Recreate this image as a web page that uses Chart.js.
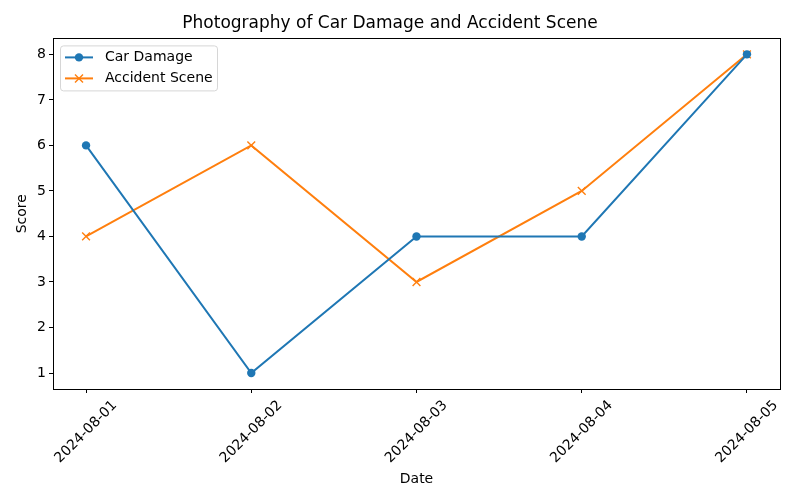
<!DOCTYPE html>
<html lang="en">
<head>
  <meta charset="UTF-8" />
  <title>Photography of Car Damage and Accident Scene</title>
  <script src="https://cdn.jsdelivr.net/npm/chart.js"></script>
  <style>
    html, body { margin: 0; padding: 0; background: #fff; }
    #wrap { width: 800px; height: 500px; }
  </style>
</head>
<body>
  <div id="wrap"><canvas id="chart" width="800" height="500"></canvas></div>

  <script>
    const dates = ['2024-08-01', '2024-08-02', '2024-08-03', '2024-08-04', '2024-08-05'];
    const carDamage = [6, 1, 4, 4, 8];
    const accidentScene = [4, 6, 3, 5, 8];
    const yTicks = [1, 2, 3, 4, 5, 6, 7, 8];

    const FONT = 'DejaVu Sans';
    const BLUE = '#1f77b4';
    const ORANGE = '#ff7f0e';

    const toPoints = arr => arr.map((v, i) => ({ x: i, y: v }));

    // frame, rotated x labels and legend, drawn like matplotlib does
    const mplPlugin = {
      id: 'mpl',
      afterDraw(chart) {
        const ctx = chart.ctx;
        const a = chart.chartArea;
        ctx.save();
        ctx.strokeStyle = '#000';
        ctx.lineWidth = 1;
        ctx.strokeRect(Math.round(a.left) + 0.5, Math.round(a.top) + 0.5,
          Math.round(a.right - a.left), Math.round(a.bottom - a.top));

        // x tick labels, centred on the tick and rotated 45deg
        const xs = chart.scales.x;
        ctx.font = '14px "' + FONT + '"';
        ctx.fillStyle = '#000';
        ctx.textAlign = 'center';
        ctx.textBaseline = 'middle';
        dates.forEach((d, i) => {
          const px = xs.getPixelForValue(i);
          ctx.save();
          ctx.translate(px, a.bottom + 43);
          ctx.rotate(-Math.PI / 4);
          ctx.fillText(d, 0, 0);
          ctx.restore();
        });

        // legend
        const lx = a.left + 7, ly = a.top + 7;
        ctx.beginPath();
        ctx.roundRect(lx + 0.5, ly + 0.5, 157, 45, 3);
        ctx.fillStyle = 'rgba(255,255,255,0.8)';
        ctx.fill();
        ctx.strokeStyle = '#d6d6d6';
        ctx.stroke();
        const items = [
          { label: 'Car Damage', color: BLUE, mark: 'o' },
          { label: 'Accident Scene', color: ORANGE, mark: 'x' }
        ];
        items.forEach((it, k) => {
          const y = ly + 12 + k * 21;
          ctx.strokeStyle = it.color;
          ctx.lineWidth = 2;
          ctx.beginPath();
          ctx.moveTo(lx + 5, y);
          ctx.lineTo(lx + 33, y);
          ctx.stroke();
          if (it.mark === 'o') {
            ctx.fillStyle = it.color;
            ctx.beginPath();
            ctx.arc(lx + 19, y, 4.2, 0, Math.PI * 2);
            ctx.fill();
          } else {
            ctx.lineWidth = 1.4;
            ctx.beginPath();
            ctx.moveTo(lx + 15, y - 4); ctx.lineTo(lx + 23, y + 4);
            ctx.moveTo(lx + 15, y + 4); ctx.lineTo(lx + 23, y - 4);
            ctx.stroke();
          }
          ctx.fillStyle = '#000';
          ctx.textAlign = 'left';
          ctx.fillText(it.label, lx + 45, y);
        });
        ctx.restore();
      }
    };

    new Chart(document.getElementById('chart').getContext('2d'), {
      type: 'line',
      data: {
        datasets: [
          {
            label: 'Car Damage',
            data: toPoints(carDamage),
            borderColor: BLUE,
            backgroundColor: BLUE,
            borderWidth: 2,
            pointStyle: 'circle',
            pointRadius: 4.2,
            pointBorderWidth: 0,
            tension: 0
          },
          {
            label: 'Accident Scene',
            data: toPoints(accidentScene),
            borderColor: ORANGE,
            backgroundColor: ORANGE,
            borderWidth: 2,
            pointStyle: 'crossRot',
            pointRadius: 5.5,
            pointBorderWidth: 1.4,
            tension: 0
          }
        ]
      },
      options: {
        responsive: false,
        animation: false,
        layout: { padding: { left: 0, right: 20, top: 1, bottom: 0 } },
        plugins: {
          legend: { display: false },
          tooltip: { enabled: false },
          title: {
            display: true,
            text: 'Photography of Car Damage and Accident Scene',
            color: '#000',
            font: { family: FONT, size: 17, weight: 'normal' },
            padding: { top: 12, bottom: 5 }
          }
        },
        scales: {
          x: {
            type: 'linear',
            min: -0.2,
            max: 4.2,
            afterBuildTicks: s => { s.ticks = dates.map((d, i) => ({ value: i })); },
            afterFit: s => { s.height = 111; },
            ticks: { callback: () => '', autoSkip: false, maxRotation: 0 },
            grid: { drawOnChartArea: false, drawTicks: true, tickLength: 4, color: '#000' },
            border: { display: false },
            title: {
              display: true,
              text: 'Date',
              color: '#000',
              font: { family: FONT, size: 14 },
              padding: { top: 0, bottom: 12 }
            }
          },
          y: {
            min: 0.65,
            max: 8.35,
            afterBuildTicks: s => { s.ticks = yTicks.map(v => ({ value: v })); },
            afterFit: s => { s.width = 53; },
            ticks: { color: '#000', font: { family: FONT, size: 14 }, padding: 3 },
            grid: { drawOnChartArea: false, drawTicks: true, tickLength: 4, color: '#000' },
            border: { display: false },
            title: {
              display: true,
              text: 'Score',
              color: '#000',
              font: { family: FONT, size: 14 },
              padding: { top: 14, bottom: 0 }
            }
          }
        }
      },
      plugins: [mplPlugin]
    });
  </script>
</body>
</html>
